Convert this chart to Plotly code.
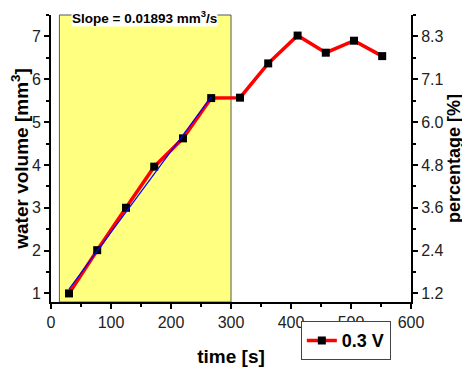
import plotly.graph_objects as go

# Data
time_s = [30, 77, 125, 172, 220, 267, 315, 362, 411, 458, 505, 552]
water_volume = [1.0, 2.01, 3.0, 3.96, 4.62, 5.56, 5.57, 6.37, 7.02, 6.62, 6.9, 6.54]
fit_x = [30, 267]
fit_slope = 0.01893
fit_intercept = 0.532
pct_tickvals = [1, 2, 3, 4, 5, 6, 7]
pct_ticktext = ["1.2", "2.4", "3.6", "4.8", "6.0", "7.1", "8.3"]
series_name = "0.3 V"

fit_y = [fit_intercept + fit_slope * x for x in fit_x]

FONT = "Liberation Sans, Arial, sans-serif"

fig = go.Figure()
fig.add_trace(go.Scatter(
    x=time_s, y=water_volume, mode="lines+markers", name="<b>" + series_name + "</b>",
    line=dict(color="#ff0000", width=3.5),
    marker=dict(symbol="square", size=8, color="black"),
))
fig.add_trace(go.Scatter(
    x=fit_x, y=fit_y, mode="lines", showlegend=False,
    line=dict(color="#0000ff", width=1.2),
))
# invisible trace to activate right axis
fig.add_trace(go.Scatter(x=[None], y=[None], yaxis="y2", showlegend=False))

fig.add_shape(type="rect", xref="x", yref="paper", x0=14, x1=300, y0=0, y1=1,
              fillcolor="#ffff80", line=dict(color="#555555", width=1), layer="below")

fig.add_annotation(x=156, y=1, xref="x", yref="paper", yanchor="middle", yshift=-2,
                   text="<b>Slope = 0.01893 mm<sup>3</sup>/s</b>", showarrow=False,
                   bgcolor="white", font=dict(size=13.5, color="black", family=FONT),
                   borderpad=0)

axis_common = dict(showgrid=False, zeroline=False, showline=True, linecolor="black",
                   linewidth=2, ticks="outside", ticklen=5, tickwidth=1.5, tickcolor="black",
                   automargin=False,
                   tickfont=dict(size=16, family=FONT, color="#222"))

# page body has an 8px margin; figure is sized/offset to compensate
fig.update_layout(
    width=462, height=359,
    margin=dict(l=43, r=59, t=7, b=61),
    plot_bgcolor="white", paper_bgcolor="white",
    font=dict(family=FONT, color="black"),
    xaxis=dict(range=[0, 600], tickvals=[0, 100, 200, 300, 400, 500, 600],
               title=dict(text="<b>time [s]</b>", font=dict(size=19), standoff=26),
               minor=dict(ticks="outside", ticklen=3, tickwidth=1.5, tickcolor="black", dtick=50, tick0=0),
               **axis_common),
    yaxis=dict(range=[0.8, 7.5], tickvals=[1, 2, 3, 4, 5, 6, 7],
               title=dict(text="<b>water volume [mm<sup>3</sup>]</b>", font=dict(size=19), standoff=2),
               minor=dict(ticks="outside", ticklen=3, tickwidth=1.5, tickcolor="black", dtick=0.5, tick0=0.5),
               **axis_common),
    yaxis2=dict(range=[0.8, 7.5], overlaying="y", side="right", anchor="x",
                tickmode="array", tickvals=pct_tickvals, ticktext=pct_ticktext,
                title=dict(text="<b>percentage [%]</b>", font=dict(size=18), standoff=3),
                minor=dict(ticks="outside", ticklen=3, tickwidth=1.5, tickcolor="black", dtick=0.5, tick0=0.5),
                **axis_common),
    legend=dict(x=0.694, y=-0.203, xanchor="left", yanchor="bottom",
                bordercolor="#444", borderwidth=1, bgcolor="white",
                font=dict(size=18, family=FONT), itemwidth=30,
                tracegroupgap=0),
    showlegend=True,
)

fig.write_html("out.html")
